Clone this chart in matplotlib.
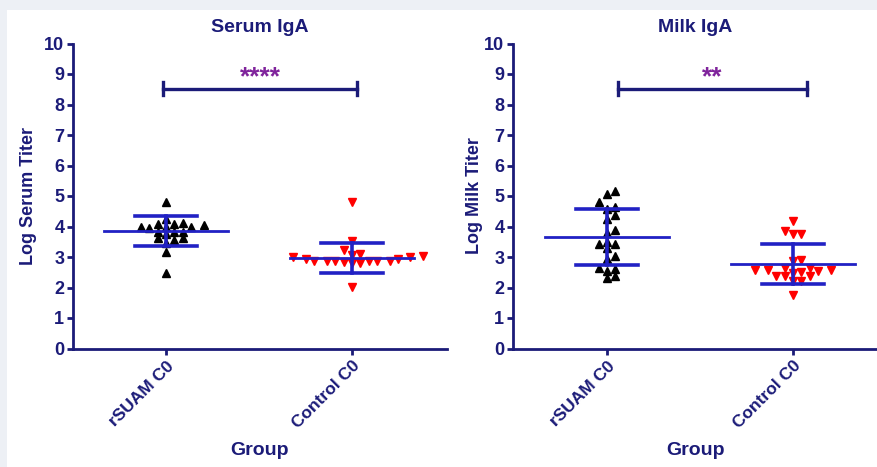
import numpy as np
import matplotlib
matplotlib.use("Agg")
import matplotlib.pyplot as plt
from matplotlib.patches import Rectangle

plt.rcParams['font.family'] = ['Liberation Sans', 'DejaVu Sans']
plt.rcParams['font.weight'] = 'bold'

groups = ["rSUAM C0", "Control C0"]

serum_rsuam = [4.25, 3.83, 3.83, 4.09, 3.61, 4.04, 3.55, 3.46, 3.99, 4.81,
               3.61, 3.16, 2.46, 3.98, 3.74, 3.98, 3.83, 4.07, 3.94, 4.11]
serum_control = [3.52, 3.22, 3.10, 3.05, 3.03, 2.99, 2.92, 2.86, 2.86, 2.86,
                 2.81, 2.81, 2.83, 2.86, 2.86, 2.86, 2.94, 2.99, 2.01, 4.81]
milk_rsuam = [5.05, 5.16, 4.80, 4.65, 4.58, 4.25, 4.39, 3.90, 3.79, 3.50,
              3.44, 3.44, 3.28, 3.03, 2.92, 2.65, 2.54, 2.30, 2.37, 2.61]
milk_control = [4.17, 3.85, 3.74, 3.76, 2.86, 2.89, 2.54, 2.48, 2.65, 2.37,
                2.59, 2.59, 2.65, 2.37, 2.37, 2.50, 2.21, 2.21, 1.77, 2.59]

serum_mean = [3.85, 2.97]
serum_sd = [0.48, 0.49]
milk_mean = [3.65, 2.78]
milk_sd = [0.92, 0.65]

NAVY = "#1b1b78"
BLUE = "#2121c4"
PURPLE = "#80249c"


def swarm(vals, w=0.045, h=0.22):
    # simple beeswarm: nearest free horizontal slot for each point
    vals = np.asarray(vals)
    offs = np.zeros(len(vals))
    placed = []
    steps = [0.0]
    for k in range(1, 60):
        steps += [k * w / 2, -k * w / 2]
    for i in np.argsort(vals):
        for s in steps:
            if all(abs(s - ox) >= w or abs(vals[i] - oy) >= h for ox, oy in placed):
                offs[i] = s
                placed.append((s, vals[i]))
                break
    return offs


def panel(ax, title, ylabel, data, means, sds, stars, xlim, bar_x, ylab_x):
    markers = ["^", "v"]
    colors = ["black", "#ff0000"]
    for i, vals in enumerate(data):
        ax.plot(i + swarm(vals), vals, linestyle="none", marker=markers[i],
                color=colors[i], ms=5.6, zorder=2)
        m, s = means[i], sds[i]
        ax.plot([i - 0.335, i + 0.335], [m, m], color=BLUE, lw=2.0, zorder=3)
        ax.plot([i - 0.165, i + 0.165], [m + s, m + s], color=BLUE, lw=2.6, zorder=3)
        ax.plot([i - 0.165, i + 0.165], [m - s, m - s], color=BLUE, lw=2.6, zorder=3)
        ax.plot([i, i], [m - s, m + s], color=BLUE, lw=2.6, zorder=3)

    # significance bracket
    ax.plot(bar_x, [8.52, 8.52], color=NAVY, lw=2.4)
    for x in bar_x:
        ax.plot([x, x], [8.3, 8.74], color=NAVY, lw=2.4)
    ax.text(np.mean(bar_x), 8.5, stars, color=PURPLE, ha="center", va="bottom",
            fontsize=19, fontweight="bold")

    ax.set_xlim(*xlim)
    ax.set_ylim(0, 10)
    ax.set_yticks(range(0, 11))
    ax.set_xticks([0, 1])
    ax.set_xticklabels(groups, rotation=45, ha="right", va="top",
                       rotation_mode="anchor")
    for sp in ["top", "right"]:
        ax.spines[sp].set_visible(False)
    for sp in ["left", "bottom"]:
        ax.spines[sp].set_color(NAVY)
        ax.spines[sp].set_linewidth(2.0)
    ax.tick_params(colors=NAVY, width=2.0, length=4, labelsize=13, pad=2)
    ax.tick_params(axis="x", pad=3, labelsize=12.5)
    ax.set_title(title, color=NAVY, fontsize=14, fontweight="bold", pad=8)
    ax.set_ylabel(ylabel, color=NAVY, fontsize=13, fontweight="bold")
    ax.yaxis.set_label_coords(ylab_x, 0.5)
    ax.set_xlabel("Group", color=NAVY, fontsize=14, fontweight="bold", va="top")
    ax.xaxis.set_label_coords(0.5, -0.305)
    for lab in ax.get_xticklabels() + ax.get_yticklabels():
        lab.set_fontweight("bold")


fig = plt.figure(figsize=(8.78, 4.67), dpi=100)
fig.patch.set_facecolor("#edf0f5")
fig.patches.append(Rectangle((7 / 878, 0), 1, 1 - 10 / 467, transform=fig.transFigure,
                             facecolor="white", edgecolor="none", zorder=-10))

ax1 = fig.add_axes([72.7 / 878, 118.5 / 467, 374 / 878, 305 / 467])
ax2 = fig.add_axes([512.7 / 878, 118.5 / 467, 365.3 / 878, 305 / 467])
for ax in (ax1, ax2):
    ax.set_facecolor("none")

panel(ax1, "Serum IgA", "Log Serum Titer", [serum_rsuam, serum_control],
      serum_mean, serum_sd, "****", (-0.502, 1.51), [-0.015, 1.03], -0.095)
panel(ax2, "Milk IgA", "Log Milk Titer", [milk_rsuam, milk_control],
      milk_mean, milk_sd, "**", (-0.507, 1.457), [0.06, 1.075], -0.08)

fig.savefig("out.png", dpi=100, facecolor=fig.get_facecolor())
